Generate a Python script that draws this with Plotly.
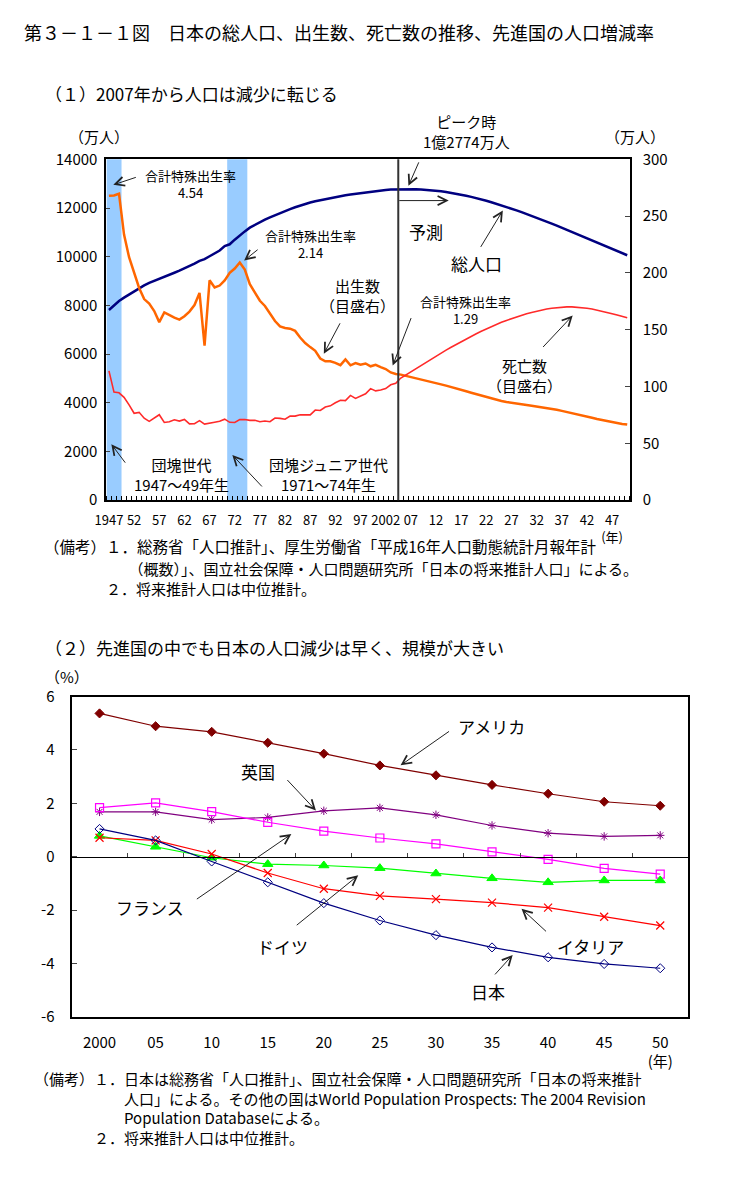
import plotly.graph_objects as go

W, H = 734, 1180
FONT = "Noto Sans CJK JP"

# ---------------- Chart (1) data ----------------
YEARS = list(range(1947, 2051))
PROJ_START = 2005
BANDS = [(1947, 1949), (1971, 1974)]

POP_HIST = [7810, 8000, 8177, 8320, 8454, 8581, 8698, 8824, 8928, 9017,
            9093, 9177, 9264, 9342, 9429, 9518, 9616, 9718, 9828, 9904,
            10020, 10133, 10254, 10440, 10510, 10700, 10880, 11040, 11194, 11309,
            11417, 11519, 11616, 11706, 11790, 11873, 11954, 12031, 12105, 12166,
            12224, 12275, 12321, 12361, 12410, 12457, 12494, 12527, 12557, 12586,
            12616, 12649, 12667, 12693, 12729, 12744, 12762, 12769]
POP_PROJ = [12771, 12774, 12773, 12769, 12761, 12747, 12730, 12710, 12687, 12660,
            12627, 12587, 12545, 12501, 12457, 12411, 12355, 12297, 12237, 12176,
            12114, 12046, 11976, 11905, 11832, 11758, 11680, 11601, 11521, 11440,
            11360, 11276, 11191, 11106, 11020, 10934, 10847, 10760, 10672, 10584,
            10496, 10409, 10321, 10233, 10146, 10059]

BIRTHS_HIST = [267.9, 268.2, 269.7, 233.8, 213.8, 200.5, 186.8, 177.0, 173.1, 166.5,
               156.7, 165.3, 162.6, 160.6, 158.9, 161.9, 166.0, 171.7, 182.4, 136.1,
               193.5, 187.2, 188.9, 193.4, 200.1, 203.9, 209.2, 203.0, 190.1, 183.3,
               175.5, 170.9, 164.3, 157.7, 152.9, 151.5, 150.9, 149.0, 143.2, 138.3,
               134.7, 131.4, 124.7, 122.2, 122.3, 120.9, 118.8, 123.8, 118.7, 120.7,
               119.2, 120.3, 117.8, 119.1, 117.1, 115.4, 112.4, 111.1]
BIRTHS_PROJ = [110.5, 109.5, 108.5, 107.3, 106.2, 105.0, 104.0, 103.0, 101.9, 100.8,
               99.7, 98.4, 97.1, 95.8, 94.5, 93.2, 91.9, 90.6, 89.4, 88.3,
               87.3, 86.4, 85.6, 84.9, 84.3, 83.7, 83.1, 82.5, 81.8, 81.1,
               80.3, 79.5, 78.6, 77.7, 76.8, 75.8, 74.8, 73.7, 72.6, 71.5,
               70.5, 69.5, 68.6, 67.8, 67.1, 66.5]

DEATHS_HIST = [113.8, 95.1, 94.5, 90.5, 83.9, 76.5, 77.3, 72.1, 69.4, 72.4,
               75.2, 68.4, 69.0, 70.7, 69.6, 71.0, 67.1, 67.3, 70.0, 67.0,
               67.5, 68.6, 69.4, 71.3, 68.5, 68.3, 70.9, 71.0, 70.2, 70.3,
               69.0, 69.6, 69.0, 72.3, 72.0, 71.2, 74.0, 74.0, 75.2, 75.1,
               75.1, 79.3, 78.9, 82.0, 83.0, 85.7, 87.9, 87.6, 92.2, 89.6,
               91.3, 93.6, 98.2, 96.2, 97.0, 98.2, 101.5, 102.9]
DEATHS_PROJ = [107.5, 110.3, 113.1, 115.9, 118.7, 121.5, 124.2, 126.9, 129.5, 132.1,
               134.6, 137.1, 139.5, 141.9, 144.2, 146.5, 148.7, 150.8, 152.8, 154.7,
               156.5, 158.2, 159.8, 161.3, 162.7, 164.0, 165.2, 166.3, 167.3, 168.2,
               168.9, 169.5, 169.9, 170.1, 170.1, 169.9, 169.5, 168.9, 168.2, 167.3,
               166.3, 165.2, 164.1, 162.9, 161.7, 160.5]

X1_TICKVALS = list(range(1947, 2050, 5))
X1_TICKTEXT = ["1947", "52", "57", "62", "67", "72", "77", "82", "87", "92", "97",
               "2002", "07", "12", "17", "22", "27", "32", "37", "42", "47<br>(年)"]
Y1_TICKS = [0, 2000, 4000, 6000, 8000, 10000, 12000, 14000]
Y2_TICKS = [0, 50, 100, 150, 200, 250, 300]

# ---------------- Chart (2) data ----------------
YEARS2 = [2000, 2005, 2010, 2015, 2020, 2025, 2030, 2035, 2040, 2045, 2050]
X2_TICKTEXT = ["2000", "05", "10", "15", "20", "25", "30", "35", "40", "45", "50<br>(年)"]
Y3_TICKS = [-6, -4, -2, 0, 2, 4, 6]
USA = [5.37, 4.89, 4.68, 4.27, 3.86, 3.42, 3.05, 2.69, 2.36, 2.06, 1.91]
UK = [1.68, 1.68, 1.39, 1.47, 1.72, 1.83, 1.57, 1.17, 0.88, 0.76, 0.80]
FRANCE = [1.84, 2.02, 1.69, 1.29, 0.96, 0.70, 0.48, 0.18, -0.10, -0.44, -0.65]
GERMANY = [0.78, 0.37, -0.04, -0.28, -0.33, -0.43, -0.63, -0.81, -0.96, -0.89, -0.89]
ITALY = [0.71, 0.61, 0.10, -0.61, -1.20, -1.47, -1.59, -1.72, -1.91, -2.25, -2.58]
JAPAN = [1.04, 0.61, -0.18, -0.96, -1.74, -2.39, -2.94, -3.40, -3.77, -4.02, -4.18]


def PX(x):
    return x / W


def PY(y):
    return 1 - y / H


pop = POP_HIST + POP_PROJ
births = BIRTHS_HIST + BIRTHS_PROJ
deaths = DEATHS_HIST + DEATHS_PROJ

fig = go.Figure()

fig.add_trace(go.Scatter(x=YEARS, y=pop, mode="lines", xaxis="x", yaxis="y",
                         line=dict(color="#000080", width=2.5), showlegend=False))
fig.add_trace(go.Scatter(x=YEARS, y=births, mode="lines", xaxis="x", yaxis="y2",
                         line=dict(color="#FF6600", width=2.5), showlegend=False))
fig.add_trace(go.Scatter(x=YEARS, y=deaths, mode="lines", xaxis="x", yaxis="y2",
                         line=dict(color="#FF2A2A", width=1.6), showlegend=False))

series2 = [
    (USA, "#800000", "diamond", 7, 1),
    (UK, "#800080", "asterisk-open", 7, 1),
    (FRANCE, "#FF00FF", "square-open", 8, 1.2),
    (GERMANY, "#00FF00", "triangle-up", 9, 1),
    (ITALY, "#FF0000", "x-thin-open", 8, 1.2),
    (JAPAN, "#000080", "diamond-open", 7, 1),
]
for vals, col, sym, size, lw in series2:
    fig.add_trace(go.Scatter(x=YEARS2, y=vals, mode="lines+markers", xaxis="x3", yaxis="y3",
                             line=dict(color=col, width=1.2),
                             marker=dict(symbol=sym, size=size, color=col,
                                         line=dict(color=col, width=lw)),
                             showlegend=False))

shapes = []
for a, b in BANDS:
    shapes.append(dict(type="rect", xref="x", yref="y domain", x0=a - 0.5, x1=b + 0.5,
                       y0=0, y1=1, fillcolor="#99CCFF", line=dict(width=0), layer="below"))
shapes.append(dict(type="line", xref="x", yref="y domain", x0=PROJ_START - 0.5,
                   x1=PROJ_START - 0.5, y0=0, y1=1, line=dict(color="#333333", width=2)))

ann = []


def txt(s, x, y, size=17, xanchor="center"):
    ann.append(dict(text=s, x=PX(x), y=PY(y), xref="paper", yref="paper",
                    showarrow=False, xanchor=xanchor, yanchor="middle",
                    align=xanchor if xanchor != "center" else "center",
                    font=dict(family=FONT, size=size, color="black")))


def arrow(tail, tip):
    ann.append(dict(text="", x=PX(tip[0]), y=PY(tip[1]), xref="paper", yref="paper",
                    ax=tail[0] - tip[0], ay=tail[1] - tip[1], showarrow=True,
                    arrowhead=5, arrowsize=1.8, arrowwidth=1, arrowcolor="#222222"))


SP = "\u3000"

# titles
txt("第３－１－１図　日本の総人口、出生数、死亡数の推移、先進国の人口増減率", 10, 20, 18, "left")
txt("（１）2007年から人口は減少に転じる", 32, 83, 17, "left")
txt("（万人）", 88, 127, 15)
txt("（万人）", 633, 127, 15)
txt("ピーク時<br>1億2774万人", 462, 122, 15)
arrow((414, 152), (403, 177))
txt("予測", 421, 223)
arrow((393, 192), (444, 192))
txt("総人口", 472, 256)
arrow((476, 240), (499, 202))
txt("合計特殊出生率<br>4.54", 181, 175, 13)
arrow((127, 168), (103, 176))
txt("合計特殊出生率<br>2.14", 303, 236, 13)
arrow((251, 241), (236, 253))
txt("出生数<br>（目盛右）", 351, 289, 15)
arrow((334, 316), (317, 348))
txt("合計特殊出生率<br>1.29", 461, 303, 13)
arrow((406, 311), (387, 360))
txt("死亡数<br>（目盛右）", 521, 370, 15)
arrow((539, 342), (570, 309))
txt("団塊世代<br>1947～49年生", 172, 471, 15)
arrow((116, 460), (101, 440))
txt("団塊ジュニア世代<br>1971～74年生", 322, 471, 15)
arrow((255, 484), (224, 451))
txt("（備考）１．総務省「人口推計」、厚生労働省「平成16年人口動態統計月報年計", 30, 544, 15.5, "left")
txt(SP * 2 + "（概数）」、国立社会保障・人口問題研究所「日本の将来推計人口」による。<br>"
    + "２．将来推計人口は中位推計。", 94, 577, 15, "left")

# chart 2 texts
txt("（２）先進国の中でも日本の人口減少は早く、規模が大きい", 32, 647, 17, "left")
txt("（%）", 56, 677, 15)
txt("アメリカ", 487, 727)
arrow((445, 732), (395, 767))
txt("英国", 250, 773)
arrow((279, 781), (309, 813))
txt("フランス", 140, 912)
arrow((188, 903), (284, 837))
txt("ドイツ", 275, 951)
arrow((289, 930), (352, 879))
txt("イタリア", 588, 951)
arrow((544, 937), (518, 913))
txt("日本", 484, 997)
arrow((490, 981), (509, 960))
txt("（備考）１．日本は総務省「人口推計」、国立社会保障・人口問題研究所「日本の将来推計<br>"
    + SP * 6 + "人口」による。その他の国はWorld Population Prospects: The 2004 Revision<br>"
    + SP * 6 + "Population Databaseによる。<br>"
    + SP * 4 + "２．将来推計人口は中位推計。", 20, 1116, 15, "left")

tickfont = dict(family=FONT, size=15, color="black")
axline = dict(showline=True, linecolor="black", linewidth=2, showgrid=False, zeroline=False)

y2_lo, y2_hi = PY(1023), PY(697)
layout = dict(
    width=W, height=H, autosize=False,
    margin=dict(l=0, r=0, t=0, b=0),
    paper_bgcolor="white", plot_bgcolor="white",
    font=dict(family=FONT, color="black"),
    shapes=shapes, annotations=ann,
    xaxis=dict(domain=[PX(96), PX(628)], anchor="y", range=[1946.5, 2050.5],
               tickmode="array", tickvals=X1_TICKVALS, ticktext=X1_TICKTEXT,
               tickangle=0, ticks="", tickfont=dict(family=FONT, size=13, color="black"),
               mirror=True, ticklabelstandoff=7,
               minor=dict(ticks="inside", ticklen=4, tick0=1946.5, dtick=1,
                          tickcolor="black", showgrid=False),
               **axline),
    yaxis=dict(domain=[PY(497), PY(150)], anchor="x", range=[0, 14000],
               tickmode="array", tickvals=Y1_TICKS, ticktext=[str(v) for v in Y1_TICKS],
               ticks="inside", ticklen=4, tickfont=tickfont, ticklabelstandoff=4, **axline),
    yaxis2=dict(overlaying="y", side="right", anchor="x", range=[0, 300],
                tickmode="array", tickvals=Y2_TICKS, ticktext=[str(v) for v in Y2_TICKS],
                ticks="inside", ticklen=5, tickfont=tickfont, ticklabelstandoff=8, **axline),
    xaxis3=dict(domain=[PX(60.5), PX(687.5)], anchor="y3", range=[1997.5, 2052.5],
                tickmode="array", tickvals=YEARS2, ticktext=X2_TICKTEXT, ticks="",
                tickangle=0, tickfont=tickfont, mirror=True, ticklabelstandoff=11, **axline),
    yaxis3=dict(domain=[y2_lo, y2_hi], anchor="x3", range=[-6, 6],
                tickmode="array", tickvals=Y3_TICKS, ticktext=[str(v) for v in Y3_TICKS],
                ticks="inside", ticklen=5, tickfont=tickfont, mirror=True,
                ticklabelstandoff=12, **axline),
    xaxis4=dict(overlaying="x3", anchor="free", position=(y2_lo + y2_hi) / 2,
                range=[1997.5, 2052.5], tickmode="array",
                tickvals=[2002.5 + 5 * i for i in range(10)], ticks="inside", ticklen=4,
                showticklabels=False, showline=True, linecolor="black", linewidth=1,
                showgrid=False, zeroline=False),
)
fig.update_layout(**layout)
# invisible trace to activate the zero-line category axis
fig.add_trace(go.Scatter(x=[YEARS2[0]], y=[0], xaxis="x4", yaxis="y3", mode="markers",
                         marker=dict(opacity=0), showlegend=False, hoverinfo="skip"))

fig.write_html("out.html", config={"displayModeBar": False},
               post_script="document.body.style.margin='0px';")
